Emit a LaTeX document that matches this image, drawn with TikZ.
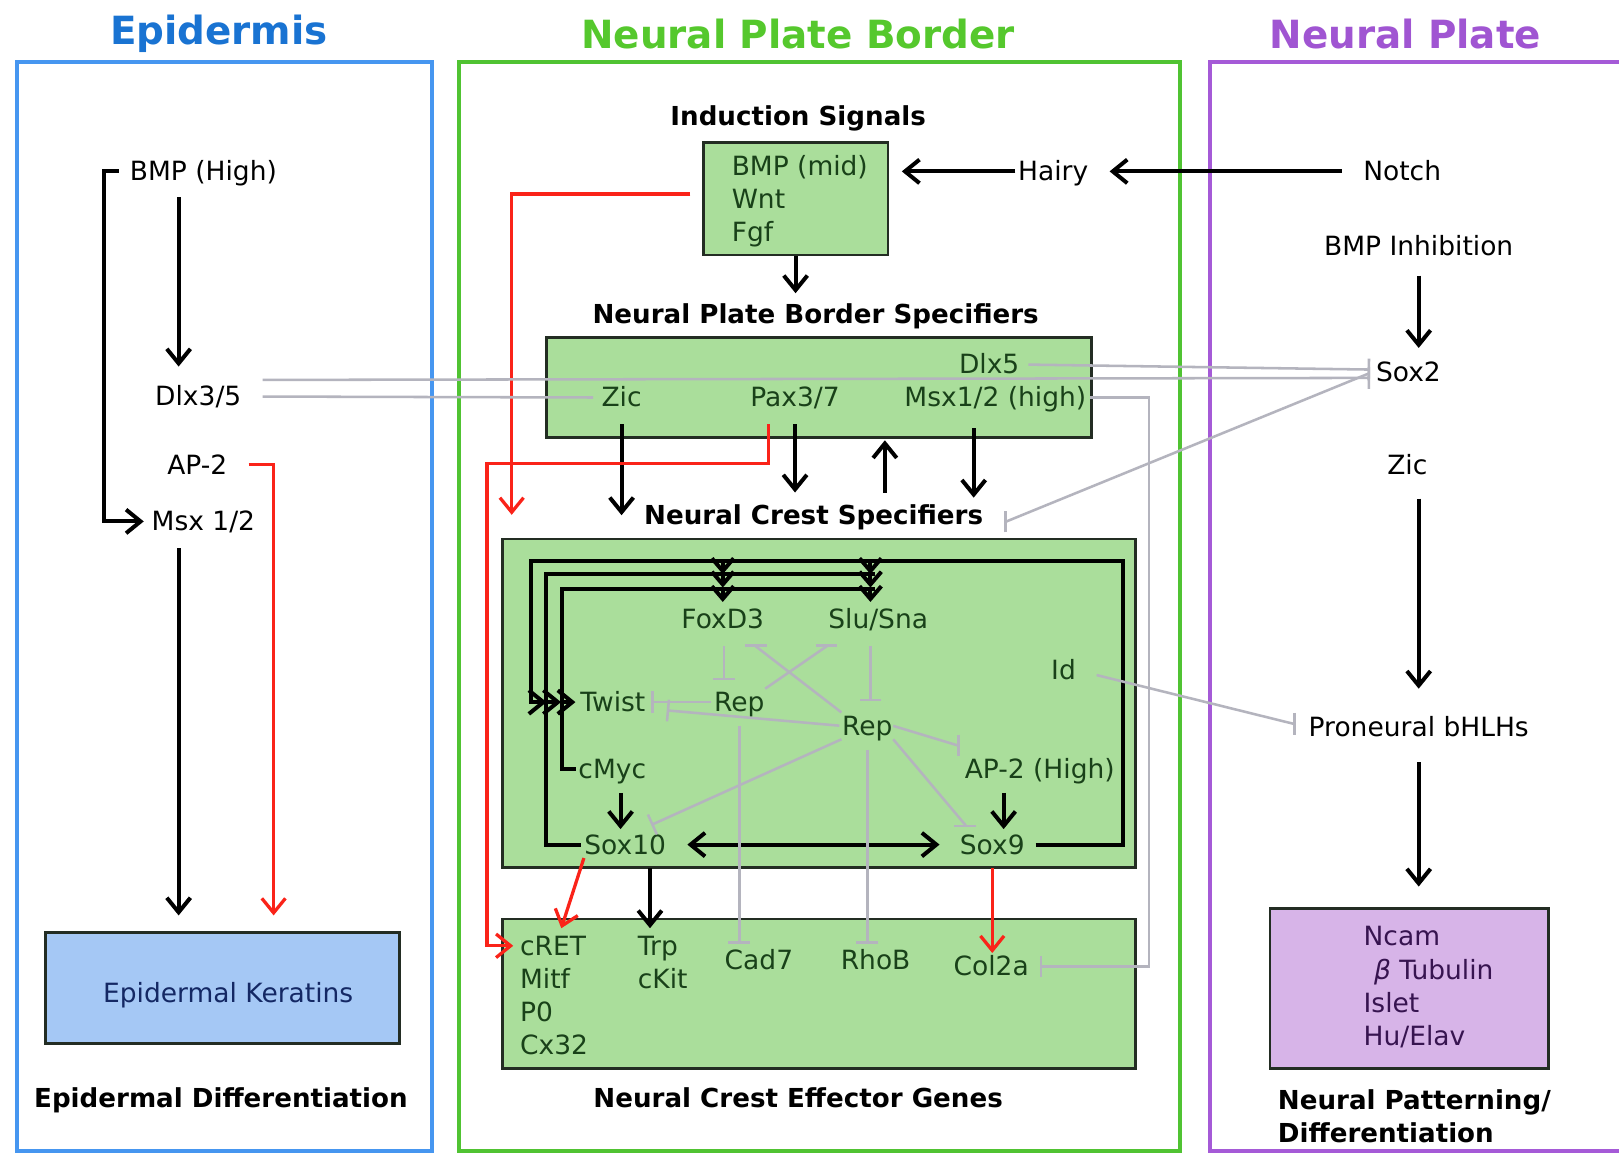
\documentclass[tikz,border=0pt]{standalone}
\usepackage{fontspec}
\setmainfont{DejaVu Sans}
\usetikzlibrary{arrows.meta}

\definecolor{epiblue}{RGB}{25,115,210}
\definecolor{npbgreen}{RGB}{85,200,45}
\definecolor{nppurple}{RGB}{160,85,210}
\definecolor{epiframe}{RGB}{70,150,240}
\definecolor{npbframe}{RGB}{80,195,50}
\definecolor{npframe}{RGB}{165,90,215}
\definecolor{boxgreen}{RGB}{170,222,155}
\definecolor{boxblue}{RGB}{165,200,245}
\definecolor{boxpurple}{RGB}{215,180,232}
\definecolor{boxline}{RGB}{35,45,35}
\definecolor{txtgreen}{RGB}{25,65,25}
\definecolor{txtblue}{RGB}{20,40,100}
\definecolor{txtpurple}{RGB}{55,20,80}
\definecolor{inhgray}{RGB}{180,180,190}
\definecolor{sigred}{RGB}{250,35,25}

\begin{document}
\begin{tikzpicture}[x=1cm, y=-1cm,
    lbl/.style={font=\fontsize{7.3}{9}\selectfont, inner sep=0pt, text height=6.1pt, text depth=0.9pt},
    gtxt/.style={lbl, text=txtgreen},
    blbl/.style={lbl, font=\fontsize{7.2}{9}\selectfont\bfseries},
    mlbl/.style={font=\fontsize{7.3}{9.1}\selectfont, inner sep=0pt, align=left},
    ttl/.style={font=\fontsize{10.7}{13}\selectfont\bfseries, inner sep=0pt},
    panel/.style={line width=1.1pt},
    genebox/.style={draw=boxline, line width=0.8pt, inner sep=0pt},
    arr/.style={line width=1.1pt, -{Straight Barb[length=4pt, width=6.5pt]}},
    chev/.style={line width=1.1pt, -{Straight Barb[length=3.5pt, width=6pt]}},
    dblarr/.style={line width=1.1pt, {Straight Barb[length=4pt, width=6.5pt]}-{Straight Barb[length=4pt, width=6.5pt]}},
    loopline/.style={line width=1.1pt},
    sigarr/.style={arr, draw=sigred, line width=0.9pt},
    inh/.style={draw=inhgray, line width=0.7pt, -{Bar[width=6pt]}},
    inhline/.style={draw=inhgray, line width=0.7pt}]

        \fill [white] (0, 0) rectangle (15.68, 11.18);
        \useasboundingbox (0, 0) rectangle (15.68, 11.18);

        \node [ttl, text=epiblue] (tepi) at (2.12, 0.33) {Epidermis};
        \node [ttl, text=npbgreen] (tnpb) at (7.73, 0.33) {Neural Plate Border};
        \node [ttl, text=nppurple] (tnp) at (13.61, 0.33) {Neural Plate};

        \draw [panel, draw=epiframe] (0.16, 0.60) rectangle (4.18, 11.15);
        \draw [panel, draw=npbframe] (4.45, 0.60) rectangle (11.43, 11.15);
        \draw [panel, draw=npframe] (11.72, 0.60) rectangle (16.00, 11.15);

        \node [genebox, fill=boxblue, minimum width=3.43cm, minimum height=1.08cm] (kerbox) at (2.155, 9.57) {};
        \node [genebox, fill=boxgreen, minimum width=1.79cm, minimum height=1.09cm] (indbox) at (7.705, 1.925) {};
        \node [genebox, fill=boxgreen, minimum width=5.28cm, minimum height=0.97cm] (npbbox) at (7.93, 3.755) {};
        \node [genebox, fill=boxgreen, minimum width=6.13cm, minimum height=3.18cm] (ncsbox) at (7.935, 6.81) {};
        \node [genebox, fill=boxgreen, minimum width=6.13cm, minimum height=1.45cm] (effbox) at (7.935, 9.625) {};
        \node [genebox, fill=boxpurple, minimum width=2.70cm, minimum height=1.55cm] (neurbox) at (13.65, 9.575) {};

        \node [lbl] (bmph) at (1.97, 1.66) {BMP (High)};
        \node [lbl] (dlx35) at (1.92, 3.84) {Dlx3/5};
        \node [lbl] (ap2e) at (1.91, 4.50) {AP-2};
        \node [lbl] (msxe) at (1.97, 5.05) {Msx 1/2};
        \node [lbl, text=txtblue] (kertxt) at (2.21, 9.62) {Epidermal Keratins};
        \node [blbl] (epidiff) at (2.14, 10.63) {Epidermal Differentiation};

        \node [blbl] (indlbl) at (7.73, 1.12) {Induction Signals};
        \node [mlbl, text=txtgreen, anchor=west] (indtxt) at (7.08, 1.945) {BMP (mid)\\Wnt\\Fgf};
        \node [lbl] (hairy) at (10.20, 1.66) {Hairy};
        \node [blbl] (npbslbl) at (7.90, 3.04) {Neural Plate Border Specifiers};
        \node [gtxt] (dlx5) at (9.58, 3.53) {Dlx5};
        \node [gtxt] (zicn) at (6.02, 3.85) {Zic};
        \node [gtxt] (pax) at (7.70, 3.85) {Pax3/7};
        \node [gtxt] (msxn) at (9.64, 3.85) {Msx1/2 (high)};
        \node [blbl] (ncslbl) at (7.88, 4.99) {Neural Crest Specifiers};

        \node [gtxt] (foxd3) at (7.00, 6.00) {FoxD3};
        \node [gtxt] (slusna) at (8.505, 6.00) {Slu/Sna};
        \node [gtxt] (idn) at (10.30, 6.49) {Id};
        \node [gtxt] (twist) at (5.935, 6.80) {Twist};
        \node [gtxt] (rep1) at (7.16, 6.80) {Rep};
        \node [gtxt] (rep2) at (8.40, 7.03) {Rep};
        \node [gtxt] (cmyc) at (5.93, 7.45) {cMyc};
        \node [gtxt] (ap2h) at (10.07, 7.45) {AP-2 (High)};
        \node [gtxt] (sox10) at (6.055, 8.18) {Sox10};
        \node [gtxt] (sox9) at (9.61, 8.18) {Sox9};

        \node [gtxt, anchor=west] (cret) at (5.03, 9.16) {cRET};
        \node [gtxt, anchor=west] (mitf) at (5.03, 9.48) {Mitf};
        \node [gtxt, anchor=west] (p0) at (5.03, 9.80) {P0};
        \node [gtxt, anchor=west] (cx32) at (5.03, 10.12) {Cx32};
        \node [gtxt, anchor=west] (trp) at (6.17, 9.16) {Trp};
        \node [gtxt, anchor=west] (ckit) at (6.17, 9.48) {cKit};
        \node [gtxt] (cad7) at (7.35, 9.30) {Cad7};
        \node [gtxt] (rhob) at (8.48, 9.30) {RhoB};
        \node [gtxt] (col2a) at (9.60, 9.36) {Col2a};
        \node [blbl] (efflbl) at (7.73, 10.63) {Neural Crest Effector Genes};

        \node [lbl] (notch) at (13.58, 1.66) {Notch};
        \node [lbl] (bmpinh) at (13.74, 2.38) {BMP Inhibition};
        \node [lbl] (sox2) at (13.64, 3.60) {Sox2};
        \node [lbl] (zicr) at (13.63, 4.50) {Zic};
        \node [lbl] (pron) at (13.74, 7.04) {Proneural bHLHs};
        \node [mlbl, text=txtpurple, anchor=west] (neurtxt) at (13.20, 9.56) {Ncam\\\hspace{1mm}\textit{β} Tubulin\\Islet\\Hu/Elav};
        \node [mlbl, font=\fontsize{7.2}{9.2}\selectfont\bfseries, anchor=west] (neurlbl) at (12.37, 10.81) {Neural Patterning/\\Differentiation};

        \draw [arr, shorten <=1.2mm, shorten >=1.6mm] ([xshift=-2.4mm]bmph.south) -- ([xshift=-2.4mm]bmph.south |- dlx35.north);
        \draw [arr, shorten <=1mm, shorten >=0.7mm] (bmph.west) -- ++(-0.24, 0) |- (msxe.west);
        \draw [arr, shorten <=1.3mm, shorten >=1.5mm] ([xshift=-2.4mm]msxe.south) -- ([xshift=-2.4mm]msxe.south |- kerbox.north);
        \draw [sigarr, shorten <=2mm, shorten >=1.5mm] (ap2e.east) -| ([xshift=4.95mm]kerbox.north);

        \draw [arr, shorten <=2mm, shorten >=2mm] (notch.west) -- (hairy.east);
        \draw [arr, shorten <=0.2mm, shorten >=1.2mm] (hairy.west) -- (hairy.west -| indbox.east);
        \draw [arr, shorten >=0.7mm] (indbox.south) -- (indbox.south |- npbslbl.north);
        \draw [arr, shorten <=1.3mm] (zicn.south) -- (zicn.south |- ncslbl.center);
        \draw [arr, shorten <=1.3mm, shorten >=0.9mm] (pax.south) -- (pax.south |- ncslbl.north);
        \draw [arr, shorten <=0.9mm, shorten >=0.1mm] ([xshift=6.9mm]ncslbl.north) -- ([xshift=6.9mm]ncslbl.north |- npbbox.south);
        \draw [arr, shorten <=1.7mm, shorten >=0.4mm] ([xshift=-2.1mm]msxn.south) -- ([xshift=-2.1mm]msxn.south |- ncslbl.north);
        \draw [sigarr, shorten <=1.1mm, shorten >=2.2mm] ([yshift=0.45mm]indbox.west) -| ([xshift=1mm]ncsbox.north west);
        \draw [sigarr, shorten <=1.3mm, shorten >=0.6mm] ([xshift=-2.6mm]pax.south) -- ++(0, 0.51) -| ([xshift=-1.4mm]ncsbox.west) |- (cret.west);

        \draw [arr, shorten <=1mm, shorten >=3.2mm] (sox9.east) -| (10.88, 5.43) -| (5.14, 6.80) -- (twist.west);
        \draw [loopline, shorten <=0.3mm] (sox10.west) -| (5.29, 5.56) -- (8.47, 5.56);
        \draw [arr, shorten >=1.8mm] (5.29, 6.80) -- (twist.west);
        \draw [loopline, shorten <=0.2mm] (cmyc.west) -| (5.44, 5.70) -- (8.47, 5.70);
        \draw [arr, shorten >=0.4mm] (5.44, 6.80) -- (twist.west);
        \foreach \y in {5.43, 5.56, 5.70} {
            \draw [chev] (foxd3.north |- 0,\y) -- ++(0, 0.13);
            \draw [chev] ([xshift=-0.75mm]slusna.north |- 0,\y) -- ++(0, 0.13);
        }
        \draw [arr, shorten <=1mm, shorten >=0.2mm] ([xshift=-0.45mm]sox10.north |- cmyc.south) -- ([xshift=-0.45mm]sox10.north);
        \draw [arr, shorten <=1mm, shorten >=0.2mm] ([xshift=1.1mm]sox9.north |- ap2h.south) -- ([xshift=1.1mm]sox9.north);
        \draw [dblarr, shorten <=2mm, shorten >=1.9mm] (sox10.east) -- (sox9.west);
        \draw [arr, shorten <=1mm, shorten >=0.4mm] ([xshift=2.4mm]sox10.south) -- ([xshift=2.4mm]sox10.south |- trp.north);
        \draw [sigarr] ([xshift=-4mm]sox10.south) -- ([xshift=0.8mm, yshift=0.4mm]cret.north);
        \draw [sigarr, shorten <=1mm] (sox9.south) -- (sox9.south |- col2a.north);

        \draw [inh, shorten <=1.3mm, shorten >=0.8mm] ([xshift=0.1mm]foxd3.south) -- ([xshift=0.1mm]foxd3.south |- rep1.north);
        \draw [inh, shorten <=0.2mm, shorten >=0.5mm] (rep1.west) -- (twist.east);
        \draw [inh, shorten <=0.2mm] (rep2.west) -- ([xshift=2mm, yshift=-0.8mm]twist.east);
        \draw [inh, shorten <=1.3mm, shorten >=1.1mm] ([xshift=-0.75mm]slusna.south) -- ([xshift=-0.75mm]slusna.south |- rep2.north);
        \draw [inh] (rep2.north west) -- ([xshift=3.2mm, yshift=-1.3mm]foxd3.south) -- ++(0, -0.02);
        \draw [inh] (rep1.north east) -- ([xshift=-5mm, yshift=-1.3mm]slusna.south) -- ++(0, -0.02);
        \draw [inh] (rep2.south east) -- ([xshift=0.6mm, yshift=0.6mm]sox9.north west) -- ++(0, 0.02);
        \draw [inh] (rep2.east) -- ([xshift=-0.6mm, yshift=2.3mm]ap2h.west) -- ++(0.02, 0);
        \draw [inh] (rep2.south west) -- ([xshift=-1.5mm, yshift=0.6mm]sox10.north east);
        \draw [inh, shorten <=1mm, shorten >=0.3mm] (rep1.south) -- (rep1.south |- cad7.north);
        \draw [inh, shorten <=1mm, shorten >=0.3mm] (rep2.south) -- (rep2.south |- rhob.north);
        \draw [inh, shorten <=2mm] (idn.east) -- ([xshift=-1.4mm, yshift=0.3mm]pron.west) -- ++(0.02, 0);
        \draw [inh, shorten <=0.3mm, shorten >=1mm] (msxn.east) -- ++(0.6, 0) |- (col2a.east);

        \draw [inhline, shorten <=2mm, shorten >=0.75mm] (dlx35.east) -- (zicn.west);
        \draw [inh, shorten <=2mm, shorten >=0.5mm] ([yshift=1.6mm]dlx35.east) -- ([yshift=-0.6mm]sox2.west);
        \draw [inh, shorten <=0.8mm, shorten >=0.5mm] (dlx5.east) -- ([yshift=0.2mm]sox2.west);
        \draw [inh, {Bar[width=6pt]}-{Bar[width=6pt]}] ([xshift=2mm, yshift=-0.6mm]ncslbl.east) -- ++(0.02, 0) -- ([xshift=-0.7mm, yshift=-0.2mm]sox2.west) -- ++(0.02, 0);

        \draw [arr, shorten <=1.6mm, shorten >=1mm] (bmpinh.south) -- (bmpinh.south |- sox2.north);
        \draw [arr, shorten <=2mm, shorten >=2.4mm] (pron.north |- zicr.south) -- (pron.north);
        \draw [arr, shorten <=2.1mm, shorten >=2mm] (pron.south) -- (pron.south |- neurbox.north);
      \end{tikzpicture}
\end{document}
